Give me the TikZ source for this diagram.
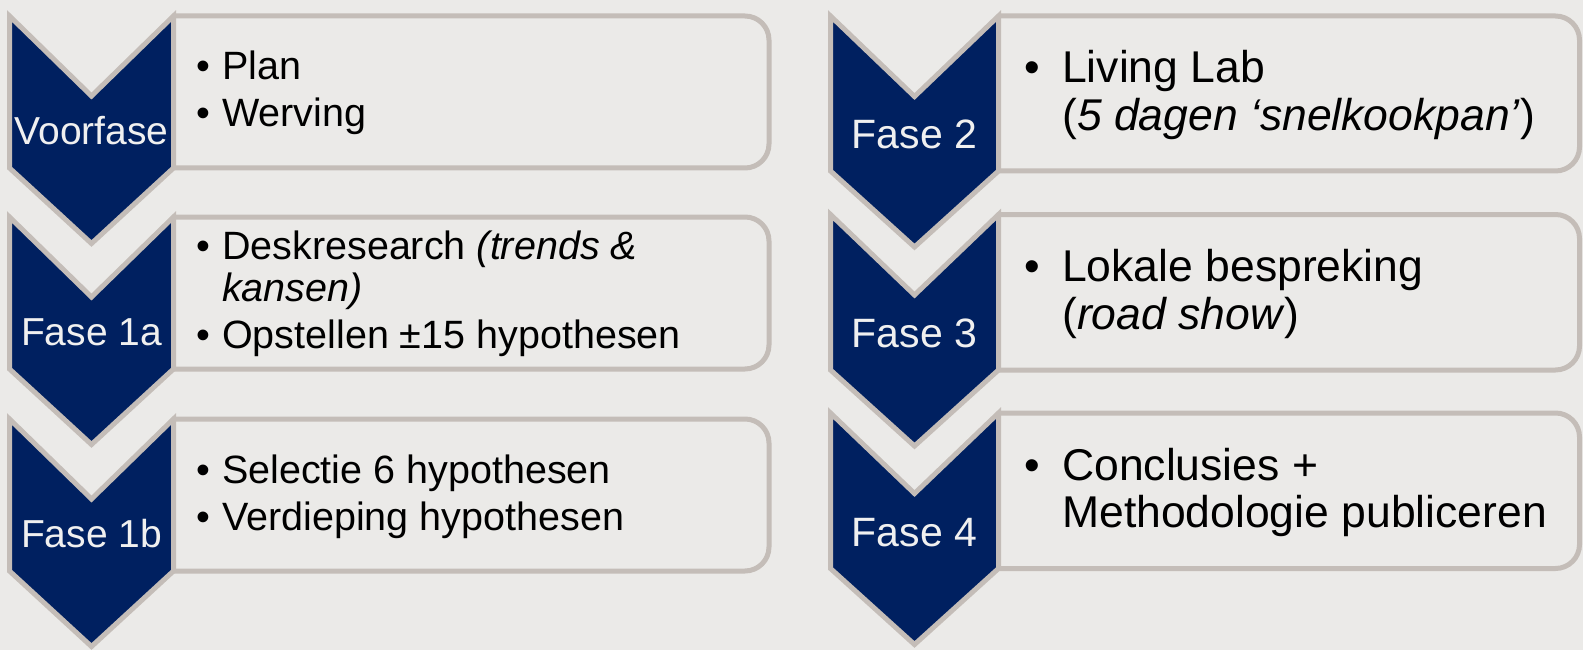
\documentclass[tikz,border=0pt]{standalone}
\usepackage{fontspec}
\setmainfont{Liberation Sans}
\usepackage{xcolor}
\definecolor{navy}{HTML}{002060}
\definecolor{rim}{HTML}{C4BDB8}
\definecolor{paper}{HTML}{EBEAE8}
\tikzstyle{chev}=[fill=navy, draw=rim, line width=5pt, line join=miter]
\tikzstyle{box}=[fill=paper, draw=rim, line width=5pt, rounded corners=24pt]
\tikzstyle{labL}=[anchor=base, text=white!94!black, font={\fontsize{39}{47}\selectfont}]
\tikzstyle{labR}=[anchor=base, text=white!94!black, font={\fontsize{41}{49}\selectfont}]
\tikzstyle{txtL}=[anchor=base west, inner sep=0pt, font={\fontsize{39.5}{47}\selectfont}]
\tikzstyle{txtR}=[anchor=base west, inner sep=0pt, font={\fontsize{44.5}{47.5}\selectfont}]
\newcommand{\bulL}{\makebox[26pt][l]{•}}
\newcommand{\bulR}{\makebox[38pt][l]{•}}

\begin{document}
\begin{tikzpicture}[x=1pt, y=-1pt]
\fill[paper] (0,0) rectangle (1583,650);
\useasboundingbox (0,0) rectangle (1583,650);

% left column
\draw[box] (173.5,16) -- (769,16) -- (769,168) -- (173.5,168);
\draw[box] (173.5,217) -- (769,217) -- (769,369) -- (173.5,369);
\draw[box] (173.5,419) -- (769,419) -- (769,571) -- (173.5,571);
\draw[chev] (9.5,16) -- (91.5,96) -- (173.5,16) -- (173.5,168) -- (91.5,243.5) -- (9.5,168) -- cycle;
\draw[chev] (9.5,217) -- (91.5,297) -- (173.5,217) -- (173.5,369) -- (91.5,444.5) -- (9.5,369) -- cycle;
\draw[chev] (9.5,419) -- (91.5,499) -- (173.5,419) -- (173.5,571) -- (91.5,646.5) -- (9.5,571) -- cycle;
\node[labL] (voorfase) at (91.5,145) {Voorfase};
\node[labL] (fase1a) at (91.5,345.5) {Fase 1a};
\node[labL] (fase1b) at (91.5,547) {Fase 1b};
\node[txtL] (plan) at (196,80) {\begin{tabular}[t]{@{}l@{}}\bulL Plan\\ \bulL Werving\end{tabular}};
\node[txtL, font={\fontsize{39.5}{42}\selectfont}] (desk) at (196,259) {\begin{tabular}[t]{@{}l@{}}\bulL Deskresearch \textit{(trends \&}\\ \hspace*{26pt}\textit{kansen)}\\[5pt] \bulL Opstellen ±15 hypothesen\end{tabular}};
\node[txtL] (selectie) at (196,483) {\begin{tabular}[t]{@{}l@{}}\bulL Selectie 6 hypothesen\\ \bulL Verdieping hypothesen\end{tabular}};

% right column
\draw[box] (998.5,16) -- (1579.5,16) -- (1579.5,171) -- (998.5,171);
\draw[box] (998.5,214.5) -- (1579.5,214.5) -- (1579.5,370) -- (998.5,370);
\draw[box] (998.5,413) -- (1579.5,413) -- (1579.5,568.5) -- (998.5,568.5);
\draw[chev] (830.5,16) -- (914.5,96.5) -- (998.5,16) -- (998.5,171) -- (914.5,247) -- (830.5,171) -- cycle;
\draw[chev] (830.5,214.5) -- (914.5,295) -- (998.5,214.5) -- (998.5,370) -- (914.5,446) -- (830.5,370) -- cycle;
\draw[chev] (830.5,413) -- (914.5,493.5) -- (998.5,413) -- (998.5,568.5) -- (914.5,644.5) -- (830.5,568.5) -- cycle;
\node[labR] (fase2) at (914.5,149) {Fase 2};
\node[labR] (fase3) at (914.5,347.5) {Fase 3};
\node[labR] (fase4) at (914.5,546) {Fase 4};
\node[txtR] (living) at (1024,83) {\begin{tabular}[t]{@{}l@{}}\bulR Living Lab\\ \hspace*{38pt}(\textit{5 dagen ‘snelkookpan’})\end{tabular}};
\node[txtR] (lokaal) at (1024,281.5) {\begin{tabular}[t]{@{}l@{}}\bulR Lokale bespreking\\ \hspace*{38pt}(\textit{road show})\end{tabular}};
\node[txtR] (concl) at (1024,480) {\begin{tabular}[t]{@{}l@{}}\bulR Conclusies +\\ \hspace*{38pt}Methodologie publiceren\end{tabular}};
\end{tikzpicture}
\end{document}
